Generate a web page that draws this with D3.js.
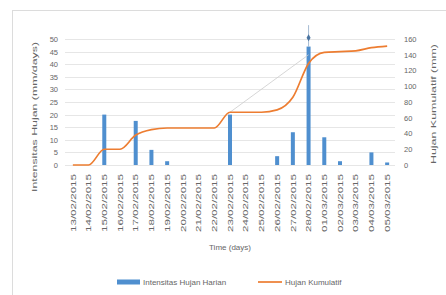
<!DOCTYPE html>
<html>
<head>
<meta charset="utf-8">
<script src="https://cdn.jsdelivr.net/npm/d3@7"></script>
<style>
  body { margin: 0; background: #fff; }
  text { font-family: "Liberation Sans", "Open Sans", sans-serif; fill: #666; }
</style>
</head>
<body>
<svg id="chart" width="446" height="295"></svg>
<script>
// data
var dates = ["13/02/2015", "14/02/2015", "15/02/2015", "16/02/2015", "17/02/2015", "18/02/2015",
    "19/02/2015", "20/02/2015", "21/02/2015", "22/02/2015", "23/02/2015", "24/02/2015",
    "25/02/2015", "26/02/2015", "27/02/2015", "28/02/2015", "01/03/2015", "02/03/2015",
    "03/03/2015", "04/03/2015", "05/03/2015"];
var hujanHarian = [0, 0, 20, 0, 17.5, 6, 1.5, 0, 0, 0, 20, 0, 0, 3.5, 13, 47, 11, 1.5, 0, 5, 1];
var hujanKumulatif = [0, 0, 20, 20, 38, 45, 47, 47, 47, 47, 67, 67, 67, 70, 86, 129, 143, 144, 145, 149, 151];
var leftTicks = [0, 5, 10, 15, 20, 25, 30, 35, 40, 45, 50];
var rightTicks = [0, 20, 40, 60, 80, 100, 120, 140, 160];
// thin grey guide line and the peak marker on 28/02
var guideDates = ["23/02/2015", "28/02/2015"];
var guideValues = [67, 140];
var peakDate = "28/02/2015";
var peakTop = 55.5, peakMark = 50.5;

var svg = d3.select("#chart");
var blue = "#4f8fcf", orange = "#ed7d31";

// outer frame
svg.append("rect").attr("x", 12.5).attr("y", 10.5).attr("width", 440).attr("height", 300)
    .attr("fill", "none").attr("stroke", "#dcdcdc");

var x = d3.scalePoint().domain(dates).range([65, 395]).padding(0.5);
var yL = d3.scaleLinear().domain([0, 50]).range([165, 39]);
var yR = d3.scaleLinear().domain([0, 160]).range([165, 39]);

// gridlines
svg.append("g").selectAll("line").data(leftTicks).enter().append("line")
    .attr("x1", 65).attr("x2", 395)
    .attr("y1", d => Math.round(yL(d)) + 0.5).attr("y2", d => Math.round(yL(d)) + 0.5)
    .attr("stroke", "#e6e6e6").attr("stroke-width", 1);

// left axis
var axL = svg.append("g").attr("transform", "translate(60,0)")
    .call(d3.axisLeft(yL).tickValues(leftTicks).tickSize(0).tickPadding(2));
axL.select(".domain").remove();
axL.selectAll("text").attr("font-size", "7.5px").style("font-family", "Liberation Sans").attr("fill", "#666");

// right axis
var axR = svg.append("g").attr("transform", "translate(402,0)")
    .call(d3.axisRight(yR).tickValues(rightTicks).tickSize(0).tickPadding(2));
axR.select(".domain").remove();
axR.selectAll("text").attr("font-size", "7.5px").style("font-family", "Liberation Sans").attr("fill", "#666");

// x axis labels
var axX = svg.append("g").attr("transform", "translate(0,172)")
    .call(d3.axisBottom(x).tickSize(0).tickPadding(0));
axX.select(".domain").remove();
axX.selectAll("text")
    .attr("font-size", "7px").attr("fill", "#666")
    .attr("text-anchor", "end")
    .attr("textLength", 58).attr("lengthAdjust", "spacingAndGlyphs")
    .attr("transform", "rotate(-90)")
    .attr("x", -2).attr("y", 0).attr("dy", "0.32em");

// bars
svg.append("g").selectAll("rect").data(dates).enter().append("rect")
    .attr("x", d => x(d) - 2)
    .attr("width", 4)
    .attr("y", (d, i) => yL(hujanHarian[i]))
    .attr("height", (d, i) => yL(0) - yL(hujanHarian[i]))
    .attr("fill", blue);

// peak line and marker
svg.append("line")
    .attr("x1", x(peakDate)).attr("x2", x(peakDate))
    .attr("y1", yL(peakTop)).attr("y2", yL(47))
    .attr("stroke", "#8faac6").attr("stroke-width", 0.8);
svg.append("path")
    .attr("d", d3.symbol().type(d3.symbolDiamond).size(14))
    .attr("transform", "translate(" + x(peakDate) + "," + yL(peakMark) + ")")
    .attr("fill", "#4a74a0");

// grey guide line
svg.append("path")
    .datum(guideDates)
    .attr("d", d3.line().x(d => x(d)).y((d, i) => yR(guideValues[i])))
    .attr("fill", "none").attr("stroke", "#cccccc").attr("stroke-width", 0.8);

// cumulative line
svg.append("path")
    .datum(dates)
    .attr("d", d3.line().curve(d3.curveMonotoneX).x(d => x(d)).y((d, i) => yR(hujanKumulatif[i])))
    .attr("fill", "none").attr("stroke", orange).attr("stroke-width", 1.7);

// axis titles
svg.append("text").attr("transform", "translate(37,117) rotate(-90)")
    .attr("text-anchor", "middle").attr("font-size", "8px")
    .attr("textLength", 150).attr("lengthAdjust", "spacingAndGlyphs")
    .text("Intensitas Hujan (mm/days)");
svg.append("text").attr("transform", "translate(436,104) rotate(-90)")
    .attr("text-anchor", "middle").attr("font-size", "8px")
    .attr("textLength", 120).attr("lengthAdjust", "spacingAndGlyphs")
    .text("Hujan Kumulatif (mm)");
svg.append("text").attr("x", 230).attr("y", 250)
    .attr("text-anchor", "middle").attr("font-size", "8px")
    .text("Time (days)");

// legend
var leg = svg.append("g").attr("transform", "translate(0,282)");
leg.append("rect").attr("x", 117).attr("y", -2.5).attr("width", 23).attr("height", 5).attr("fill", blue);
leg.append("text").attr("x", 143).attr("y", 0).attr("dy", "0.32em").attr("font-size", "8px")
    .text("Intensitas Hujan Harian");
leg.append("line").attr("x1", 258).attr("x2", 282).attr("y1", 0).attr("y2", 0)
    .attr("stroke", orange).attr("stroke-width", 1.7);
leg.append("text").attr("x", 285).attr("y", 0).attr("dy", "0.32em").attr("font-size", "8px")
    .text("Hujan Kumulatif");
</script>
</body>
</html>
